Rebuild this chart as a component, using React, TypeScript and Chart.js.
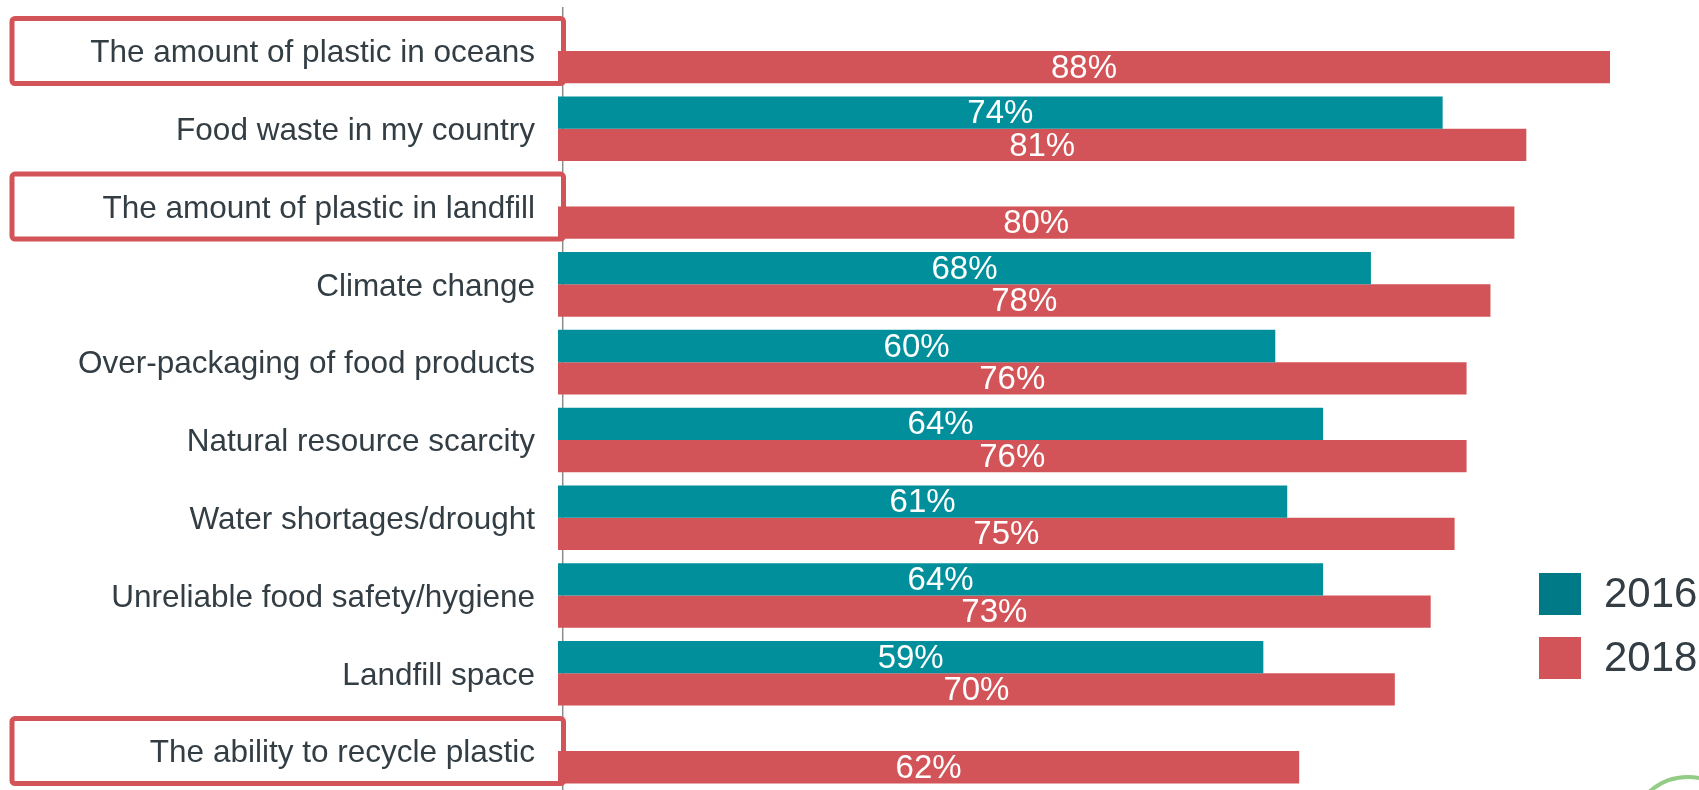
import { useEffect, useRef } from "react";
import { Chart, registerables } from "chart.js";

Chart.register(...registerables);

const categories = [
  "The amount of plastic in oceans",
  "Food waste in my country",
  "The amount of plastic in landfill",
  "Climate change",
  "Over-packaging of food products",
  "Natural resource scarcity",
  "Water shortages/drought",
  "Unreliable food safety/hygiene",
  "Landfill space",
  "The ability to recycle plastic",
];
const values2016: (number | null)[] = [null, 74, null, 68, 60, 64, 61, 64, 59, null];
const values2018: (number | null)[] = [88, 81, 80, 78, 76, 76, 75, 73, 70, 62];
const seriesLabels = ["2016", "2018"];
const highlighted = [categories[0], categories[2], categories[9]];

const TEAL = "#008f9b";
const TEAL_LEGEND = "#007a87";
const RED = "#d35458";
const TEXT = "#333d44";
const FONT = "'Liberation Sans', Arial, Helvetica, sans-serif";

const decorPlugin = {
  id: "decor",
  beforeDatasetsDraw(chart: any) {
    const { ctx } = chart;
    const y = chart.scales.y;
    ctx.save();
    // axis line
    ctx.strokeStyle = "#8c8c8c";
    ctx.lineWidth = 1.5;
    ctx.beginPath();
    ctx.moveTo(562.7, 7);
    ctx.lineTo(562.7, 790);
    ctx.stroke();
    // highlight boxes
    ctx.strokeStyle = RED;
    ctx.lineWidth = 5;
    highlighted.forEach((name) => {
      const idx = categories.indexOf(name);
      const cy = y.getPixelForValue(idx);
      ctx.beginPath();
      (ctx as any).roundRect(12, cy - 32.5, 551.5, 65, 3);
      ctx.stroke();
    });
    ctx.restore();
  },
  afterDatasetsDraw(chart: any) {
    const { ctx } = chart;
    ctx.save();
    ctx.fillStyle = "#ffffff";
    ctx.font = `33px ${FONT}`;
    ctx.textAlign = "center";
    ctx.textBaseline = "middle";
    chart.data.datasets.forEach((ds: any, di: number) => {
      const meta = chart.getDatasetMeta(di);
      meta.data.forEach((el: any, i: number) => {
        const v = ds.data[i];
        if (v === null || v === undefined) return;
        const props = el.getProps(["x", "y", "base"], true);
        ctx.fillText(`${v}%`, (props.x + props.base) / 2, props.y + 1.5);
      });
    });
    ctx.restore();
  },
  afterDraw(chart: any) {
    const { ctx } = chart;
    ctx.save();
    const colors = [TEAL_LEGEND, RED];
    seriesLabels.forEach((lab, i) => {
      const top = 573 + i * 64;
      ctx.fillStyle = colors[i];
      ctx.fillRect(1539, top, 42, 42);
      ctx.fillStyle = TEXT;
      ctx.font = `42px ${FONT}`;
      ctx.textAlign = "left";
      ctx.textBaseline = "middle";
      ctx.fillText(lab, 1604, top + 22);
    });
    // partial logo circle at bottom-right
    ctx.strokeStyle = "#93cc85";
    ctx.lineWidth = 4;
    ctx.beginPath();
    ctx.arc(1688, 835, 58, 0, Math.PI * 2);
    ctx.stroke();
    ctx.restore();
  },
};

export default function App() {
  const ref = useRef<HTMLCanvasElement | null>(null);
  useEffect(() => {
    if (!ref.current) return;
    const chart = new Chart(ref.current, {
      type: "bar",
      data: {
        labels: categories,
        datasets: [
          {
            label: seriesLabels[0],
            data: values2016,
            backgroundColor: TEAL,
            categoryPercentage: 0.83,
            barPercentage: 1,
          },
          {
            label: seriesLabels[1],
            data: values2018,
            backgroundColor: RED,
            categoryPercentage: 0.83,
            barPercentage: 1,
          },
        ],
      },
      options: {
        indexAxis: "y",
        animation: false,
        responsive: false,
        devicePixelRatio: 1,
        layout: { padding: { top: 12.1, right: 5.3, bottom: 0, left: 0 } },
        plugins: {
          legend: { display: false },
          tooltip: { enabled: false },
        },
        scales: {
          x: { min: 0, max: 95, display: false },
          y: {
            grid: { display: false, drawTicks: false },
            border: { display: false },
            ticks: {
              autoSkip: false,
              color: TEXT,
              padding: 23,
              labelOffset: 2.5,
              font: { size: 31.5, family: FONT },
            },
            afterFit(scale: any) {
              scale.width = 558;
              scale.paddingTop = 0;
              scale.paddingBottom = 0;
            },
          },
        },
      },
      plugins: [decorPlugin],
    } as any);
    return () => chart.destroy();
  }, []);
  return (
    <div style={{ position: "absolute", left: 0, top: 0, width: 1699, height: 790, background: "#fff" }}>
      <canvas ref={ref} width={1699} height={790} style={{ display: "block", width: 1699, height: 790 }} />
    </div>
  );
}
